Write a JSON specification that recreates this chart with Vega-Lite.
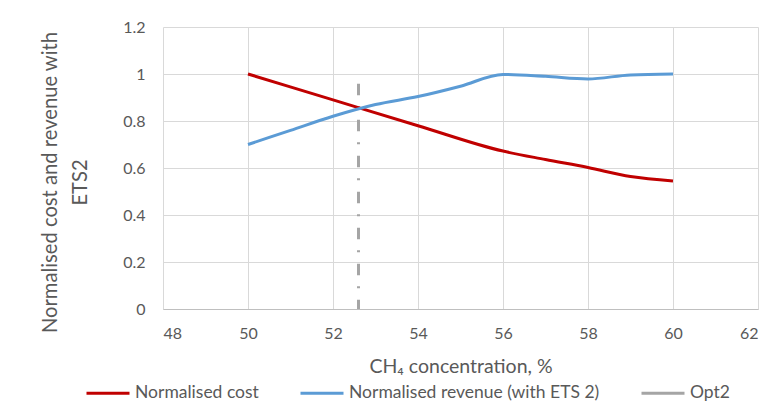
{
  "$schema": "https://vega.github.io/schema/vega-lite/v6.json",
  "width": 595,
  "height": 282,
  "autosize": {"type": "none"},
  "padding": {"left": 163, "top": 27, "right": 26, "bottom": 104},
  "background": "white",
  "config": {
    "font": "Lato",
    "view": {"stroke": null},
    "axis": {
      "labelColor": "#595959",
      "titleColor": "#595959",
      "labelFont": "Lato",
      "titleFont": "Lato",
      "titleFontWeight": "normal",
      "gridColor": "#D9D9D9",
      "gridWidth": 1,
      "ticks": false,
      "tickSize": 0
    }
  },
  "data": {
    "values": [
      {"series": "Normalised cost", "x": 50, "y": 1.0, "o": 1},
      {"series": "Normalised cost", "x": 52, "y": 0.89, "o": 2},
      {"series": "Normalised cost", "x": 54, "y": 0.78, "o": 3},
      {"series": "Normalised cost", "x": 56, "y": 0.672, "o": 4},
      {"series": "Normalised cost", "x": 57, "y": 0.636, "o": 5},
      {"series": "Normalised cost", "x": 58, "y": 0.602, "o": 6},
      {"series": "Normalised cost", "x": 59, "y": 0.564, "o": 7},
      {"series": "Normalised cost", "x": 60, "y": 0.545, "o": 8},
      {"series": "Normalised revenue (with ETS 2)", "x": 50, "y": 0.7, "o": 1},
      {"series": "Normalised revenue (with ETS 2)", "x": 51, "y": 0.76, "o": 2},
      {"series": "Normalised revenue (with ETS 2)", "x": 52, "y": 0.82, "o": 3},
      {"series": "Normalised revenue (with ETS 2)", "x": 53, "y": 0.87, "o": 4},
      {"series": "Normalised revenue (with ETS 2)", "x": 54, "y": 0.904, "o": 5},
      {"series": "Normalised revenue (with ETS 2)", "x": 55, "y": 0.948, "o": 6},
      {"series": "Normalised revenue (with ETS 2)", "x": 56, "y": 0.998, "o": 7},
      {"series": "Normalised revenue (with ETS 2)", "x": 57, "y": 0.99, "o": 8},
      {"series": "Normalised revenue (with ETS 2)", "x": 58, "y": 0.979, "o": 9},
      {"series": "Normalised revenue (with ETS 2)", "x": 59, "y": 0.996, "o": 10},
      {"series": "Normalised revenue (with ETS 2)", "x": 60, "y": 1.0, "o": 11},
      {"series": "Opt2", "x": 52.6, "y": 0.958, "y0": 0, "o": 1}
    ]
  },
  "encoding": {
    "x": {
      "field": "x",
      "type": "quantitative",
      "scale": {"domain": [48, 62], "zero": false, "nice": false},
      "axis": {
        "values": [48, 50, 52, 54, 56, 58, 60, 62],
        "title": "CH₄ concentration, %",
        "titleFontSize": 19.5,
        "titlePadding": 16,
        "labelFontSize": 16,
        "labelPadding": 16,
        "domainColor": "#BFBFBF",
        "domainWidth": 1
      }
    },
    "y": {
      "field": "y",
      "type": "quantitative",
      "scale": {"domain": [0, 1.2], "nice": false},
      "axis": {
        "values": [0, 0.2, 0.4, 0.6, 0.8, 1, 1.2],
        "format": "~g",
        "title": ["Normalised cost and revenue with", "ETS2"],
        "titleFontSize": 20.2,
        "titleLineHeight": 30,
        "titlePadding": 32,
        "titleY": 155,
        "labelFontSize": 16,
        "labelPadding": 18,
        "domain": false
      }
    }
  },
  "layer": [
    {
      "transform": [{"filter": "datum.series === 'Opt2'"}],
      "mark": {"type": "rule", "strokeWidth": 3, "color": "#A5A5A5", "strokeDash": [11.5, 11, 2, 11.5]},
      "encoding": {
        "y2": {"field": "y0"}
      }
    },
    {
      "transform": [{"filter": "datum.series !== 'Opt2'"}],
      "mark": {"type": "line", "interpolate": "monotone", "strokeWidth": 3},
      "encoding": {
        "order": {"field": "o", "type": "quantitative"},
        "color": {
          "field": "series",
          "type": "nominal",
          "scale": {
            "domain": ["Normalised cost", "Normalised revenue (with ETS 2)", "Opt2"],
            "range": ["#C00000", "#5B9BD5", "#A5A5A5"]
          },
          "legend": {
            "title": null,
            "orient": "none",
            "direction": "horizontal",
            "legendX": -78,
            "legendY": 343,
            "symbolType": "M-1,0L1,0",
            "symbolSize": 1849,
            "symbolStrokeWidth": 3,
            "labelFontSize": 17.5,
            "labelLimit": 0,
            "labelColor": "#595959",
            "labelOffset": 4,
            "columnPadding": 35,
            "encode": {
              "symbols": {"update": {"strokeDash": {"value": [50, 0]}}}
            }
          }
        }
      }
    }
  ]
}
